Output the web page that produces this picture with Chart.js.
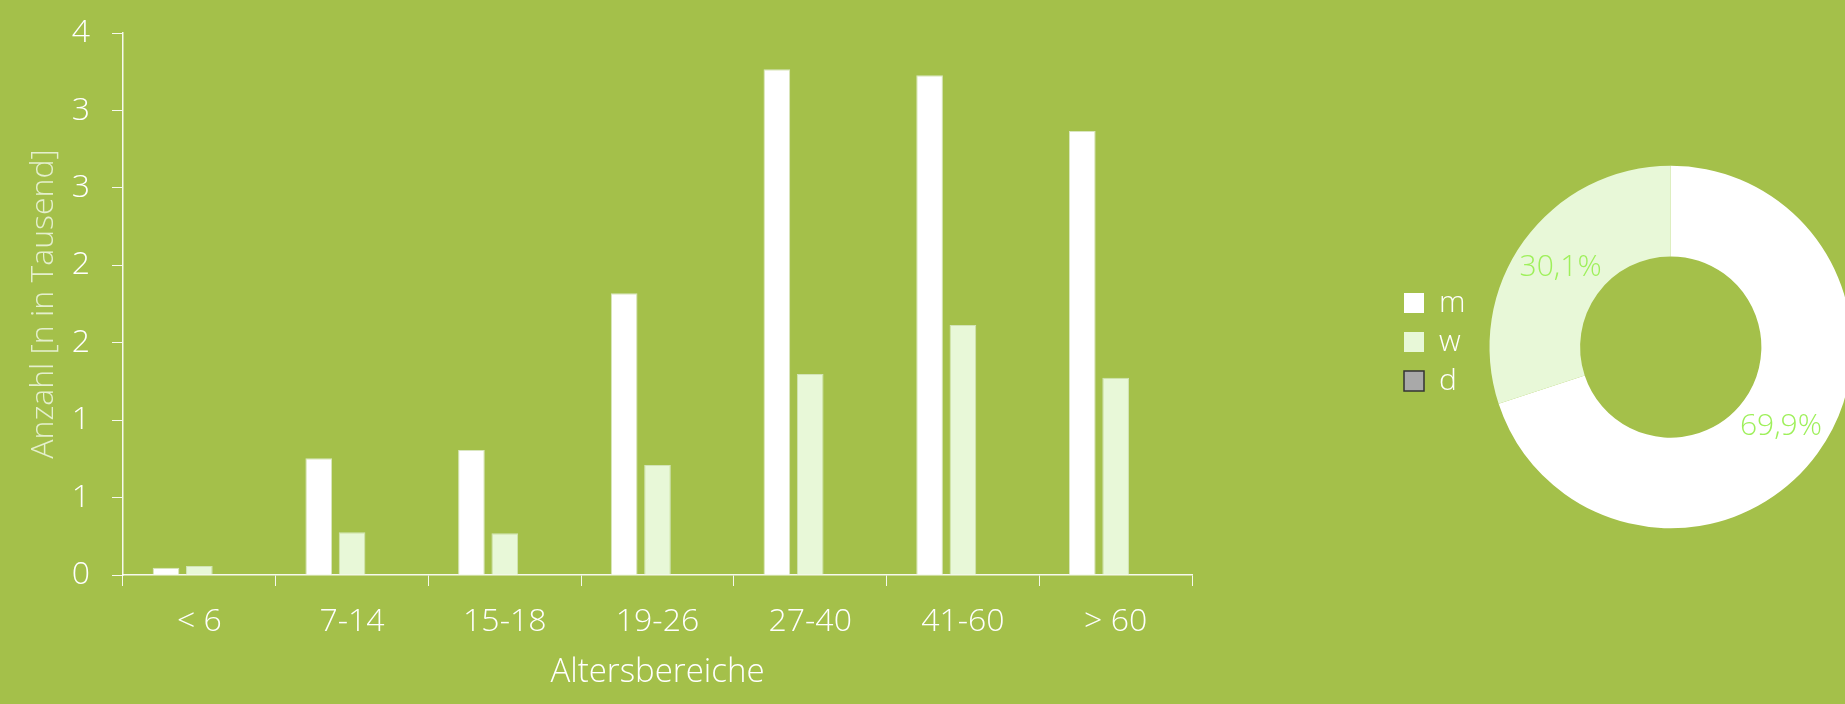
<!DOCTYPE html>
<html>
<head>
<meta charset="utf-8">
<script src="https://cdn.jsdelivr.net/npm/chart.js@4/dist/chart.umd.min.js"></script>
<style>
  html, body { margin: 0; padding: 0; width: 1845px; height: 704px; overflow: hidden; background: #a4c04a; }
  #barBox { position: absolute; left: 0; top: 0; width: 1250px; height: 704px; }
  #pieBox { position: absolute; left: 1401px; top: 165px; width: 459px; height: 364px; }
</style>
</head>
<body>
<div id="barBox"><canvas id="barChart"></canvas></div>
<div id="pieBox"><canvas id="pieChart"></canvas></div>
<script>
// Altersbereiche, Werte in Tausend
const categories = ['< 6', '7-14', '15-18', '19-26', '27-40', '41-60', '> 60'];
const seriesM = [0.047, 0.754, 0.807, 1.819, 3.266, 3.227, 2.867];
const seriesW = [0.058, 0.276, 0.269, 0.710, 1.298, 1.614, 1.274];
const seriesD = [0, 0, 0, 0, 0, 0, 0];
const seriesNames = ['m', 'w', 'd'];
const yTicks = [0, 0.5, 1, 1.5, 2, 2.5, 3, 3.5];

const FONT = "'Open Sans', 'DejaVu Sans', sans-serif";
const colM = '#ffffff', colW = '#e8f8d8', colD = '#a9a9a9';
const lineCol = 'rgba(255,255,255,0.9)';

const sum = a => a.reduce((s, v) => s + v, 0);

new Chart(document.getElementById('barChart'), {
  type: 'bar',
  data: {
    labels: categories,
    datasets: [
      { label: seriesNames[0], data: seriesM, backgroundColor: colM, borderColor: '#d9e6bf', borderWidth: 1 },
      { label: seriesNames[1], data: seriesW, backgroundColor: colW, borderColor: '#d2e4b6', borderWidth: 1 },
      { label: seriesNames[2], data: seriesD, backgroundColor: colD, borderColor: '#333', borderWidth: 1 }
    ]
  },
  options: {
    responsive: true,
    maintainAspectRatio: false,
    animation: false,
    layout: { padding: { top: 33, right: 58, left: 0, bottom: 0 } },
    datasets: { bar: { categoryPercentage: 0.655, barPercentage: 0.8 } },
    plugins: { legend: { display: false }, tooltip: { enabled: false } },
    scales: {
      x: {
        grid: { drawOnChartArea: false, drawTicks: true, tickLength: 11, color: lineCol, offset: true },
        border: { color: lineCol, width: 1.5 },
        ticks: { color: '#ffffff', padding: 17, font: { family: FONT, size: 32, weight: 300 } },
        title: { display: true, text: 'Altersbereiche', color: '#ffffff', padding: { top: 0, bottom: 12 }, font: { family: FONT, size: 33, weight: 300 } },
        afterFit: s => { s.height = 129; }
      },
      y: {
        min: 0,
        max: 3.5,
        afterBuildTicks: s => { s.ticks = yTicks.map(v => ({ value: v })); },
        grid: { drawOnChartArea: false, drawTicks: true, tickLength: 11, color: lineCol },
        border: { color: lineCol, width: 1.5 },
        ticks: { color: '#ffffff', padding: 22, font: { family: FONT, size: 32, weight: 300 },
                 callback: v => String(Math.round(v)) },
        title: { display: true, text: 'Anzahl [n in Tausend]', color: '#e4efcd', padding: { top: 25, bottom: 0 }, font: { family: FONT, size: 32, weight: 300 } },
        afterFit: s => { s.width = 123; s.paddingTop = 0; s.paddingBottom = 0; }
      }
    }
  }
});

// Prozentwerte in den Ring schreiben
const pctLabels = {
  id: 'pctLabels',
  afterDatasetsDraw(chart) {
    const ds = chart.data.datasets[0];
    const total = sum(ds.data);
    const ctx = chart.ctx;
    ctx.save();
    ctx.font = '300 30px ' + FONT;
    ctx.fillStyle = '#9ef05a';
    ctx.textAlign = 'center';
    ctx.textBaseline = 'middle';
    chart.getDatasetMeta(0).data.forEach((arc, i) => {
      const v = ds.data[i];
      if (!v) return;
      const p = arc.tooltipPosition();
      ctx.fillText((v / total * 100).toFixed(1).replace('.', ',') + '%', p.x, p.y);
    });
    ctx.restore();
  }
};

// Legende etwas nach links oben schieben
const legendShift = {
  id: 'legendShift',
  afterLayout(chart) {
    const lg = chart.legend;
    lg.left -= 6; lg.right -= 6;
    lg.top -= 5; lg.bottom -= 5;
  }
};

new Chart(document.getElementById('pieChart'), {
  type: 'doughnut',
  data: {
    labels: seriesNames,
    datasets: [{
      data: [sum(seriesM), sum(seriesW), sum(seriesD)],
      backgroundColor: [colM, colW, colD],
      borderColor: ['#ffffff', colW, '#333333'],
      borderWidth: [0, 0, 1.5]
    }]
  },
  options: {
    responsive: true,
    maintainAspectRatio: false,
    animation: false,
    cutout: '50%',
    layout: { padding: 0 },
    plugins: {
      tooltip: { enabled: false },
      legend: {
        position: 'left',
        labels: { color: '#ffffff', boxWidth: 20, boxHeight: 20, padding: 9,
                  font: { family: FONT, size: 30, weight: 300 } }
      }
    }
  },
  plugins: [pctLabels, legendShift]
});
</script>
</body>
</html>
